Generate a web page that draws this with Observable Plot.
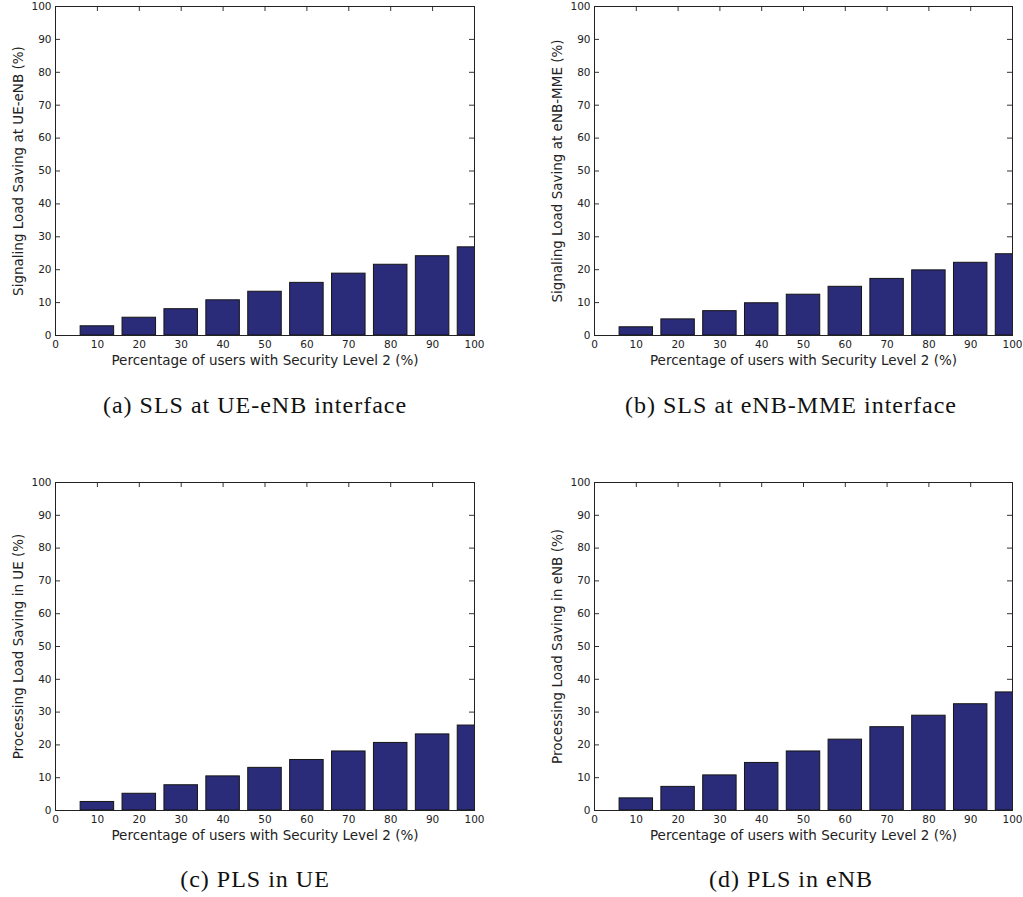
<!DOCTYPE html>
<html><head><meta charset="utf-8">
<script src="https://cdn.jsdelivr.net/npm/d3@7"></script>
<script src="https://cdn.jsdelivr.net/npm/@observablehq/plot@0.6"></script>
<style>
body{margin:0;background:#fff;}
#root{position:relative;width:1023px;height:897px;overflow:hidden;}
.panel{position:absolute;}
.cap{position:absolute;font-family:"Liberation Serif",serif;font-size:24px;letter-spacing:1px;white-space:nowrap;transform:translate(-50%,-50%);color:#111;}
</style></head><body><div id="root"></div>
<script>
// Data
const percentUsers = [10, 20, 30, 40, 50, 60, 70, 80, 90, 100];
const slsUeEnb  = [2.8, 5.4, 8.0, 10.7, 13.3, 16.0, 18.8, 21.5, 24.1, 26.8];
const slsEnbMme = [2.5, 4.9, 7.4, 9.8, 12.4, 14.8, 17.2, 19.8, 22.1, 24.7];
const plsUe     = [2.6, 5.1, 7.7, 10.4, 13.0, 15.4, 18.0, 20.6, 23.2, 25.9];
const plsEnb    = [3.7, 7.2, 10.7, 14.5, 18.0, 21.6, 25.4, 28.9, 32.4, 36.0];
const xTicks = [0, 10, 20, 30, 40, 50, 60, 70, 80, 90, 100];
const yTicks = [0, 10, 20, 30, 40, 50, 60, 70, 80, 90, 100];
const xTitle = "Percentage of users with Security Level 2 (%)";
const yTitles = [
  "Signaling Load Saving at UE-eNB (%)",
  "Signaling Load Saving at eNB-MME (%)",
  "Processing Load Saving in UE (%)",
  "Processing Load Saving in eNB (%)"
];
const captions = [
  "(a) SLS at UE-eNB interface",
  "(b) SLS at eNB-MME interface",
  "(c) PLS in UE",
  "(d) PLS in eNB"
];
const seriesList = [slsUeEnb, slsEnbMme, plsUe, plsEnb];

// Layout
const panels = [
  {left: 0,   top: 0,   width: 510, mL: 55, mR: 36, mT: 6, mB: 45, capX: 255, capY: 405},
  {left: 510, top: 0,   width: 513, mL: 84, mR: 11, mT: 6, mB: 45, capX: 791, capY: 405},
  {left: 0,   top: 476, width: 510, mL: 55, mR: 36, mT: 6, mB: 46, capX: 255, capY: 879},
  {left: 510, top: 476, width: 513, mL: 84, mR: 11, mT: 6, mB: 46, capX: 791, capY: 879}
];
const H = 380;
const barFill = "#2a2b79";
const root = document.getElementById("root");

panels.forEach((p, i) => {
  const data = percentUsers.map((x, j) => ({x, v: seriesList[i][j]}));
  const plotW = p.width - p.mL - p.mR;
  const plotH = H - p.mT - p.mB;
  const chart = Plot.plot({
    width: p.width, height: H,
    marginLeft: p.mL, marginRight: p.mR, marginTop: p.mT, marginBottom: p.mB,
    x: {domain: [0, 100]},
    y: {domain: [0, 100]},
    style: {fontFamily: "DejaVu Sans", fontSize: "10.5px", color: "#222", background: "transparent"},
    marks: [
      Plot.tickY(yTicks, {y: d => d, stroke: "#333", insetRight: plotW - 5}),
      Plot.tickY(yTicks, {y: d => d, stroke: "#333", insetLeft: plotW - 5}),
      Plot.tickX(xTicks, {x: d => d, stroke: "#333", insetBottom: plotH - 5}),
      Plot.tickX(xTicks, {x: d => d, stroke: "#333", insetTop: plotH - 5}),
      Plot.rectY(data, {x1: d => d.x - 4, x2: d => d.x + 4, y: "v", fill: barFill, stroke: "#151515", strokeWidth: 1, clip: true}),
      Plot.frame({stroke: "#222"}),
      Plot.axisX(xTicks, {tickSize: 0, tickPadding: 5, label: null, tickFormat: d => d}),
      Plot.axisY(yTicks, {tickSize: 0, tickPadding: 4, label: null, tickFormat: d => d}),
      Plot.text([xTitle], {frameAnchor: "bottom", dy: 29, text: d => d, fontSize: 13.5, fill: "#222", textAnchor: "middle"}),
      Plot.text([yTitles[i]], {frameAnchor: "left", dx: -37, rotate: -90, text: d => d, fontSize: 13.5, fill: "#222", textAnchor: "middle"})
    ]
  });
  const div = document.createElement("div");
  div.className = "panel";
  div.style.left = p.left + "px";
  div.style.top = p.top + "px";
  div.appendChild(chart);
  root.appendChild(div);
  const cap = document.createElement("div");
  cap.className = "cap";
  cap.style.left = p.capX + "px";
  cap.style.top = p.capY + "px";
  cap.textContent = captions[i];
  root.appendChild(cap);
});
</script>
</body></html>
